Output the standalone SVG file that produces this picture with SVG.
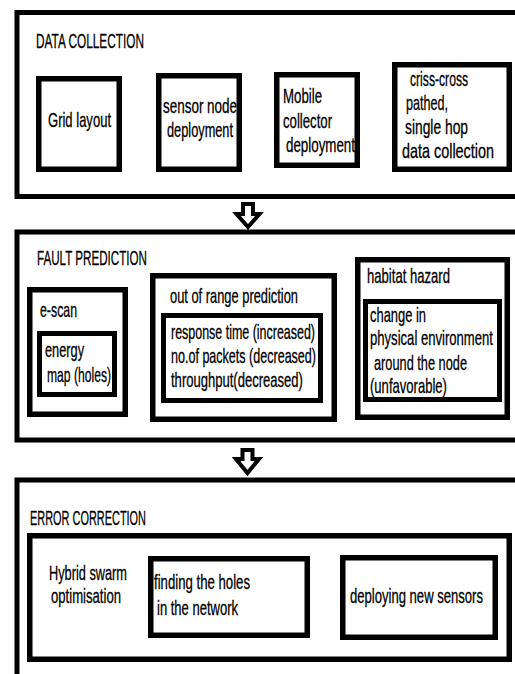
<svg xmlns="http://www.w3.org/2000/svg" width="515" height="674" viewBox="0 0 515 674">
<style>
.bg{fill:#fff}
.outer{fill:none;stroke:#000;stroke-width:5}
.box{fill:#fff;stroke:#000;stroke-width:5.5}
.inbox{fill:#fff;stroke:#000;stroke-width:5}
.arrow{fill:#fff;stroke:#000;stroke-width:4;stroke-linejoin:miter}
text{font-family:"Liberation Sans",Arial,sans-serif;font-size:20px;fill:#000;stroke:#000;stroke-width:0.3}
.title{font-size:20.5px}
</style>
<rect class="bg" x="0" y="0" width="515" height="674"/>

<g id="data-collection">
<rect class="outer" x="17" y="12.5" width="520" height="184"/>
<text class="title" transform="translate(36,48) scale(0.72,1)" textLength="150" lengthAdjust="spacingAndGlyphs">DATA COLLECTION</text>
</g>
<g id="grid-layout">
<rect class="box" x="38.75" y="78.75" width="80.5" height="90.5"/>
<text transform="translate(48,127) scale(0.72,1)" textLength="87.5" lengthAdjust="spacingAndGlyphs">Grid layout</text>
</g>
<g id="sensor-node-deployment">
<rect class="box" x="158.75" y="75.75" width="80.5" height="93.5"/>
<text transform="translate(163,113) scale(0.72,1)" textLength="102.8" lengthAdjust="spacingAndGlyphs">sensor node</text>
<text transform="translate(167,137) scale(0.72,1)" textLength="91.7" lengthAdjust="spacingAndGlyphs">deployment</text>
</g>
<g id="mobile-collector-deployment">
<rect class="box" x="276.75" y="74.75" width="80.5" height="90.5"/>
<text transform="translate(283,103) scale(0.72,1)" textLength="54.2" lengthAdjust="spacingAndGlyphs">Mobile</text>
<text transform="translate(283,128) scale(0.72,1)" textLength="68.1" lengthAdjust="spacingAndGlyphs">collector</text>
<text transform="translate(286,152) scale(0.72,1)" textLength="95.8" lengthAdjust="spacingAndGlyphs">deployment</text>
</g>
<g id="criss-cross">
<rect class="box" x="394.75" y="64.75" width="114.5" height="104.5"/>
<text transform="translate(410,86) scale(0.72,1)" textLength="80.6" lengthAdjust="spacingAndGlyphs">criss-cross</text>
<text transform="translate(406,110) scale(0.72,1)" textLength="58.3" lengthAdjust="spacingAndGlyphs">pathed,</text>
<text transform="translate(405,134) scale(0.72,1)" textLength="87.5" lengthAdjust="spacingAndGlyphs">single hop</text>
<text transform="translate(402,158) scale(0.72,1)" textLength="127.8" lengthAdjust="spacingAndGlyphs">data collection</text>
</g>

<g id="fault-prediction">
<rect class="outer" x="17" y="232" width="520" height="208"/>
<text class="title" transform="translate(37,265) scale(0.72,1)" textLength="152.8" lengthAdjust="spacingAndGlyphs">FAULT PREDICTION</text>
</g>
<g id="e-scan">
<rect class="box" x="29.75" y="289.75" width="95.5" height="124.5"/>
<text transform="translate(40,317) scale(0.72,1)" textLength="51.4" lengthAdjust="spacingAndGlyphs">e-scan</text>
<rect class="inbox" x="39.5" y="333.5" width="75" height="61"/>
<text transform="translate(45,357) scale(0.72,1)" textLength="54.2" lengthAdjust="spacingAndGlyphs">energy</text>
<text transform="translate(47,382) scale(0.72,1)" textLength="88.9" lengthAdjust="spacingAndGlyphs">map (holes)</text>
</g>
<g id="out-of-range">
<rect class="box" x="152.75" y="275.75" width="181.5" height="143.5"/>
<text transform="translate(170,303) scale(0.72,1)" textLength="177.8" lengthAdjust="spacingAndGlyphs">out of range prediction</text>
<rect class="inbox" x="163.5" y="315.5" width="157" height="85"/>
<text transform="translate(171,339) scale(0.72,1)" textLength="200" lengthAdjust="spacingAndGlyphs">response time (increased)</text>
<text transform="translate(171,363) scale(0.72,1)" textLength="201.4" lengthAdjust="spacingAndGlyphs">no.of packets (decreased)</text>
<text transform="translate(171,387) scale(0.72,1)" textLength="183.3" lengthAdjust="spacingAndGlyphs">throughput(decreased)</text>
</g>
<g id="habitat-hazard">
<rect class="box" x="357.75" y="259.75" width="149.5" height="157.5"/>
<text transform="translate(367,283) scale(0.72,1)" textLength="115.3" lengthAdjust="spacingAndGlyphs">habitat hazard</text>
<rect class="inbox" x="365.5" y="301.5" width="134" height="98"/>
<text transform="translate(370,322) scale(0.72,1)" textLength="77.8" lengthAdjust="spacingAndGlyphs">change in</text>
<text transform="translate(370,345) scale(0.72,1)" textLength="170.8" lengthAdjust="spacingAndGlyphs">physical environment</text>
<text transform="translate(374,370) scale(0.72,1)" textLength="129.2" lengthAdjust="spacingAndGlyphs">around the node</text>
<text transform="translate(370,393) scale(0.72,1)" textLength="106.9" lengthAdjust="spacingAndGlyphs">(unfavorable)</text>
</g>

<g id="error-correction">
<rect class="outer" x="17" y="480" width="520" height="300"/>
<text class="title" transform="translate(30,525) scale(0.72,1)" textLength="161.1" lengthAdjust="spacingAndGlyphs">ERROR CORRECTION</text>
</g>
<g id="hybrid-swarm">
<rect class="box" x="29.75" y="535.75" width="479.5" height="123.5"/>
<text transform="translate(49,580) scale(0.72,1)" textLength="108.3" lengthAdjust="spacingAndGlyphs">Hybrid swarm</text>
<text transform="translate(51,603) scale(0.72,1)" textLength="97.2" lengthAdjust="spacingAndGlyphs">optimisation</text>
</g>
<g id="finding-holes">
<rect class="box" x="150.75" y="558.75" width="156.5" height="76.5"/>
<text transform="translate(154,589) scale(0.72,1)" textLength="133.3" lengthAdjust="spacingAndGlyphs">finding the holes</text>
<text transform="translate(157,615) scale(0.72,1)" textLength="112.5" lengthAdjust="spacingAndGlyphs">in the network</text>
</g>
<g id="deploying-sensors">
<rect class="box" x="342.75" y="557.75" width="152.5" height="79.5"/>
<text transform="translate(350,603) scale(0.72,1)" textLength="184.7" lengthAdjust="spacingAndGlyphs">deploying new sensors</text>
</g>

<g id="connectors">
<path class="arrow" d="M243,204 H253 V214 H259.5 L248,227 L236.5,214 H243 Z"/>
<path class="arrow" d="M242.5,450 H252.5 V459 H259 L247.5,473 L236,459 H242.5 Z"/>
</g>
</svg>
